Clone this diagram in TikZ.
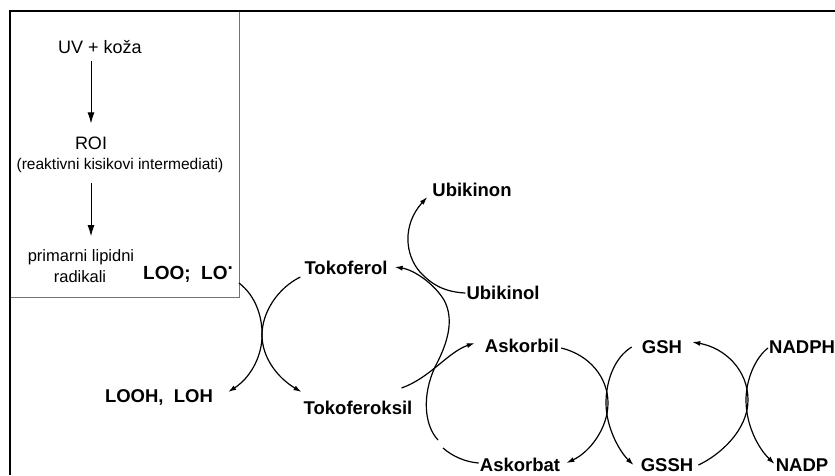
\documentclass[tikz,border=0pt]{standalone}
\usepackage{fontspec}
\setmainfont{Liberation Sans}
\usetikzlibrary{arrows.meta}
\begin{document}
\begin{tikzpicture}[x=1pt,y=-1pt,
  lbl/.style={font=\fontsize{18.5}{20}\selectfont\bfseries, inner sep=1pt},
  txt/.style={font=\fontsize{18}{20}\selectfont, inner sep=1pt},
  sml/.style={font=\fontsize{15.5}{17}\selectfont, inner sep=1pt},
  flow/.style={line width=1.2pt, -{Latex[length=8pt,width=5pt]}},
  plain/.style={line width=1.2pt},
  down/.style={line width=0.9pt, -{Latex[length=11pt,width=7pt]}},
]
\useasboundingbox (0,0) rectangle (835,475);
\fill[white] (0,0) rectangle (835,475);

% outer frame (open to the right and bottom) and the inset box
\draw[line width=2.6pt, line join=miter] (10,475) -- (10,11) -- (835,11);
\draw[black!55, line width=0.8pt] (239,12) -- (239,297) -- (11,297);
\coordinate (boxc) at (239,283);

% inset: origin of the lipid radicals
\node[txt] (uv) at (100,47) {UV + koža};
\node[txt] (roi) at (91,143) {ROI};
\node[sml] (roifull) at (120,165) {(reaktivni kisikovi intermediati)};
\node[sml, font=\fontsize{16.5}{18}\selectfont] (prim) at (81,257) {primarni lipidni};
\node[sml, font=\fontsize{16.5}{18}\selectfont] (rad) at (80,277) {radikali};
\node[lbl, font=\fontsize{19}{20}\selectfont\bfseries] (loo) at (188,274) {LOO;\ \ LO\raisebox{0.5em}{.}};

\draw[down, shorten <=6pt, shorten >=12pt] (uv.south -| roi.center) -- (roi.north);
\draw[down, shorten <=10pt, shorten >=12pt] (roifull.south -| roi.center) -- (prim.north -| roi.center);

% compounds
\node[lbl] (ubikinon) at (472,190) {Ubikinon};
\node[lbl] (tokoferol) at (346,268) {Tokoferol};
\node[lbl] (ubikinol) at (503,293) {Ubikinol};
\node[lbl] (askorbil) at (522,346) {Askorbil};
\node[lbl] (tokoferoksil) at (358,408) {Tokoferoksil};
\node[lbl] (looh) at (159,397) {LOOH,\ \ LOH};
\node[lbl] (askorbat) at (520,465) {Askorbat};
\node[lbl] (gsh) at (662,347) {GSH};
\node[lbl, anchor=west] (nadph) at (768,347) {NADPH};
\node[lbl] (gssh) at (667,465) {GSSH};
\node[lbl] (nadp) at (802,465) {NADP};

% lipid radicals / tocopherol crossing
\draw[flow] (boxc) .. controls (256,296) and (263,318) .. (262,338)
  .. controls (261,358) and (250,378) .. ([shift={(14,-5)}]looh.east);
\draw[flow] ([shift={(-3,9)}]tokoferol.west) .. controls (278,288) and (262,312) .. (262,335)
  .. controls (262,358) and (278,378) .. ([shift={(-1,-16)}]tokoferoksil.west);

% tocopherol regeneration
\draw[plain] ([shift={(0,-2)}]askorbat.west) .. controls (465,462) and (452,456) .. (443,448);
\draw[flow] (438,440) .. controls (424,425) and (422,395) .. (435,367)
  .. controls (445,348) and (456,322) .. (444,300)
  .. controls (435,285) and (415,270) .. ([shift={(6,-1)}]tokoferol.east);
\draw[flow] ([shift={(-12,-20)}]tokoferoksil.east) .. controls (430,378) and (448,352) .. ([shift={(-9,-3)}]askorbil.west);
\draw[flow] (ubikinol.west) .. controls (445,292) and (432,285) .. (420,272)
  .. controls (405,255) and (402,225) .. ([shift={(-4,7)}]ubikinon.west);

% ascorbate / glutathione crossing
\draw[flow] ([shift={(1,2)}]askorbil.east) .. controls (590,355) and (608,378) .. (608,403)
  .. controls (608,428) and (590,452) .. ([shift={(5,-2)}]askorbat.east);
\draw[flow] ([shift={(-9,0)}]gsh.west) .. controls (615,357) and (606,380) .. (606,403)
  .. controls (606,428) and (620,452) .. ([shift={(-6,0)}]gssh.west);

% glutathione / NADPH crossing
\draw[flow] ([shift={(4,0)}]gssh.east) .. controls (720,455) and (748,430) .. (748,400)
  .. controls (748,370) and (725,348) .. ([shift={(9,-5)}]gsh.east);
\draw[flow] ([shift={(0,1)}]nadph.west) .. controls (755,358) and (746,380) .. (746,400)
  .. controls (746,425) and (758,448) .. ([shift={(0,-1)}]nadp.west);
\end{tikzpicture}
\end{document}
